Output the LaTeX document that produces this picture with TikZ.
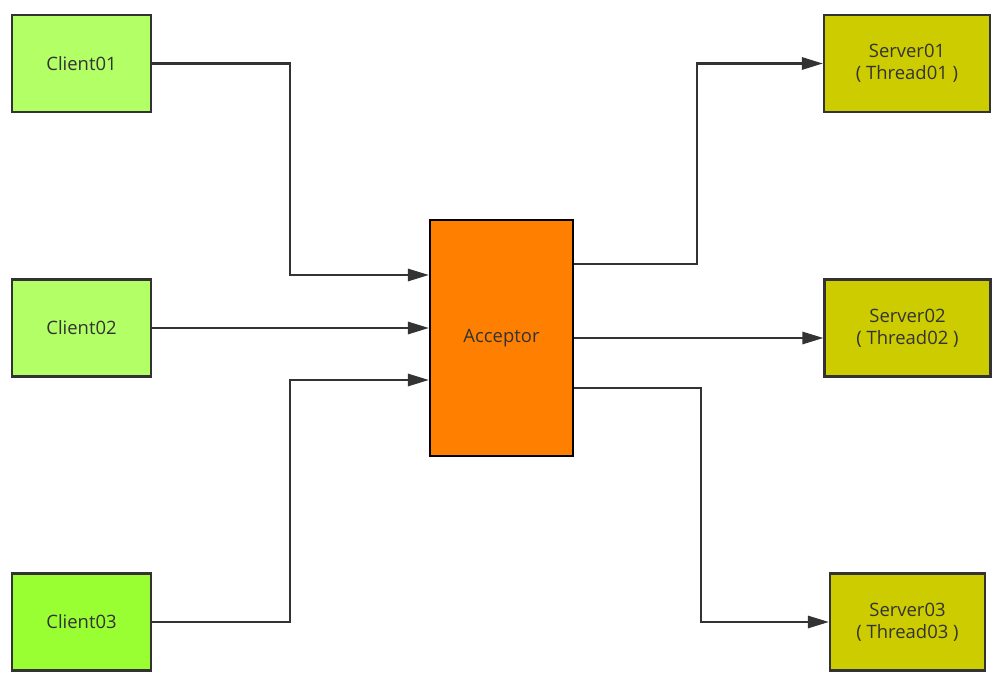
\documentclass[tikz,border=0pt]{standalone}
\usepackage{fontspec}
\setmainfont{Open Sans}
\usepackage{xcolor}
\usetikzlibrary{arrows.meta,positioning,calc}
\definecolor{ink}{HTML}{333333}
\definecolor{lime}{HTML}{B3FF66}
\definecolor{limex}{HTML}{99FF33}
\definecolor{orng}{HTML}{FF8000}
\definecolor{olive}{HTML}{CCCC00}
\tikzset{
  box/.style={draw=ink,line width=1.3pt,align=center,inner sep=0pt,font=\fontsize{10.5}{12.5}\selectfont\color{ink},minimum width=139*0.02cm,minimum height=97*0.02cm},
  boxc/.style={box,fill=lime},
  boxd/.style={box,fill=limex},
  boxs/.style={box,fill=olive,minimum width=166*0.02cm},
  boxa/.style={box,draw=black,fill=orng,minimum width=143*0.02cm,minimum height=236*0.02cm},
  arr/.style={-{Triangle[length=12pt,width=7pt]},line width=1.3pt,color=ink},
}
\begin{document}
\begin{tikzpicture}[x=0.02cm,y=-0.02cm]
\useasboundingbox (0,0) rectangle (995,682);
% clients
\node[boxc] (c1) at (81.5,63.5) {Client01};
\node[boxc] (c2) at (81.5,328) {Client02};
\node[boxd] (c3) at (81.5,622) {Client03};
% acceptor
\node[boxa] (acc) at (501.5,338) {Acceptor};
% servers
\node[boxs] (s1) at (907,63.5) {Server01\\( Thread01 )};
\node[boxs] (s2) at (907.5,328) {Server02\\( Thread02 )};
\node[boxs,minimum width=155*0.02cm] (s3) at (907.5,622) {Server03\\( Thread03 )};
% in
\draw[arr] (c1.east) -| ($(acc.west)+(-139,-63)$) -- ($(acc.west)+(0,-63)$);
\draw[arr] (c2.east) -- (acc.west |- c2.east);
\draw[arr] (c3.east) -| ($(acc.west)+(-139,42)$) -- ($(acc.west)+(0,42)$);
% out
\draw[arr] ($(acc.east)+(0,-74)$) -| ($(s1.west)+(-126,0)$) -- (s1.west);
\draw[arr] (acc.east) -- (acc.east -| s2.west);
\draw[arr] ($(acc.east)+(0,50)$) -| ($(s3.west)+(-128,0)$) -- (s3.west);
\end{tikzpicture}
\end{document}
